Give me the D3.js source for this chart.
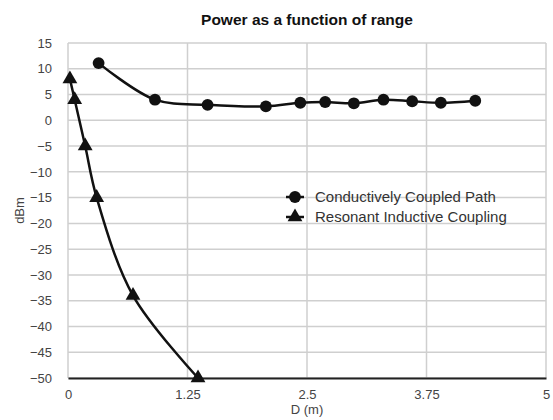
<!DOCTYPE html>
<html lang="en">

<head>
  <title></title>
  <meta charset="UTF-8">
  <style>
    body {
      margin: 0;
      background: #fff;
    }
    text {
      font-family: "Liberation Sans", Arial, sans-serif;
    }
  </style>
</head>

<body>
  <div id="container"></div>
  <script src="https://cdn.jsdelivr.net/npm/d3@7/dist/d3.min.js"></script>
  <script>
    // data
    const conductiveX = [0.32, 0.91, 1.46, 2.07, 2.43, 2.69, 2.99, 3.30, 3.60, 3.90, 4.26];
    const conductiveY = [11.1, 4.0, 3.0, 2.7, 3.4, 3.55, 3.3, 4.0, 3.7, 3.4, 3.8];
    const resonantX = [0.02, 0.07, 0.18, 0.30, 0.68, 1.36];
    const resonantY = [8, 4, -5, -15, -34, -50];
    const xTicks = [0, 1.25, 2.5, 3.75, 5];
    const xTickLabels = ['0', '1.25', '2.5', '3.75', '5'];
    const yTicks = d3.range(-50, 16, 5);
    const seriesNames = ['Conductively Coupled Path', 'Resonant Inductive Coupling'];

    const size = { w: 553, h: 420 };
    const margin = { top: 43, right: 7, bottom: 42, left: 68 };
    const inner = {
      width: size.w - margin.left - margin.right,
      height: size.h - margin.top - margin.bottom
    };

    const x = d3.scaleLinear().domain([0, 5]).range([0, inner.width]);
    const y = d3.scaleLinear().domain([-50, 15]).range([inner.height, 0]);

    const svg = d3.select('#container')
      .append('svg')
      .attr('width', size.w)
      .attr('height', size.h);

    svg.append('text')
      .attr('x', margin.left + inner.width / 2)
      .attr('y', 25)
      .attr('text-anchor', 'middle')
      .attr('font-size', 15.5)
      .attr('font-weight', 'bold')
      .attr('fill', '#111')
      .text('Power as a function of range');

    const g = svg.append('g')
      .attr('transform', `translate(${margin.left},${margin.top})`);

    // grid
    g.append('g')
      .selectAll('line')
      .data(yTicks)
      .join('line')
      .attr('x1', 0)
      .attr('x2', inner.width)
      .attr('y1', d => y(d))
      .attr('y2', d => y(d))
      .attr('stroke', '#cfcfcf')
      .attr('stroke-width', 1.5);
    g.append('g')
      .selectAll('line')
      .data(xTicks)
      .join('line')
      .attr('x1', d => x(d))
      .attr('x2', d => x(d))
      .attr('y1', 0)
      .attr('y2', inner.height)
      .attr('stroke', '#cfcfcf')
      .attr('stroke-width', 1.5);

    // axes
    const xAxis = d3.axisBottom(x)
      .tickValues(xTicks)
      .tickFormat((d, i) => xTickLabels[i])
      .tickSize(0)
      .tickPadding(12);
    const yAxis = d3.axisLeft(y)
      .tickValues(yTicks)
      .tickSize(0)
      .tickPadding(16);

    const gx = g.append('g')
      .attr('transform', `translate(0,${inner.height})`)
      .call(xAxis);
    gx.select('.domain').attr('stroke', '#222').attr('stroke-width', 2);
    gx.selectAll('text').attr('font-size', 13).attr('fill', '#444').attr('font-family', null);

    const gy = g.append('g').call(yAxis);
    gy.select('.domain').remove();
    gy.selectAll('text').attr('font-size', 13).attr('fill', '#444').attr('font-family', null);

    svg.append('text')
      .attr('x', margin.left + inner.width / 2)
      .attr('y', 414)
      .attr('text-anchor', 'middle')
      .attr('font-size', 13)
      .attr('fill', '#444')
      .text('D (m)');

    svg.append('text')
      .attr('transform', `translate(24,${margin.top + inner.height / 2}) rotate(-90)`)
      .attr('text-anchor', 'middle')
      .attr('font-size', 13)
      .attr('fill', '#444')
      .text('dBm');

    // series
    const line = d3.line()
      .x(d => x(d[0]))
      .y(d => y(d[1]))
      .curve(d3.curveCatmullRom.alpha(0.5));

    const conductive = conductiveX.map((d, i) => [d, conductiveY[i]]);
    const resonant = resonantX.map((d, i) => [d, resonantY[i]]);

    const circle = d3.symbol().type(d3.symbolCircle).size(110);
    const triangle = d3.symbol().type(d3.symbolTriangle).size(95);

    [[conductive, circle], [resonant, triangle]].forEach(([data, sym]) => {
      g.append('path')
        .datum(data)
        .attr('d', line)
        .attr('fill', 'none')
        .attr('stroke', '#111')
        .attr('stroke-width', 2.5);
      g.append('g')
        .selectAll('path')
        .data(data)
        .join('path')
        .attr('transform', d => `translate(${x(d[0])},${y(d[1])})`)
        .attr('d', sym)
        .attr('fill', '#111');
    });

    // legend
    const legend = svg.append('g').attr('transform', 'translate(295,197)');
    [circle, triangle].forEach((sym, i) => {
      const row = legend.append('g').attr('transform', `translate(0,${i * 20})`);
      row.append('line')
        .attr('x1', -9).attr('x2', 9)
        .attr('stroke', '#111').attr('stroke-width', 2.5);
      row.append('path').attr('d', sym).attr('fill', '#111');
      row.append('text')
        .attr('x', 20)
        .attr('y', 5)
        .attr('font-size', 15)
        .attr('fill', '#333')
        .text(seriesNames[i]);
    });
  </script>
</body>

</html>
